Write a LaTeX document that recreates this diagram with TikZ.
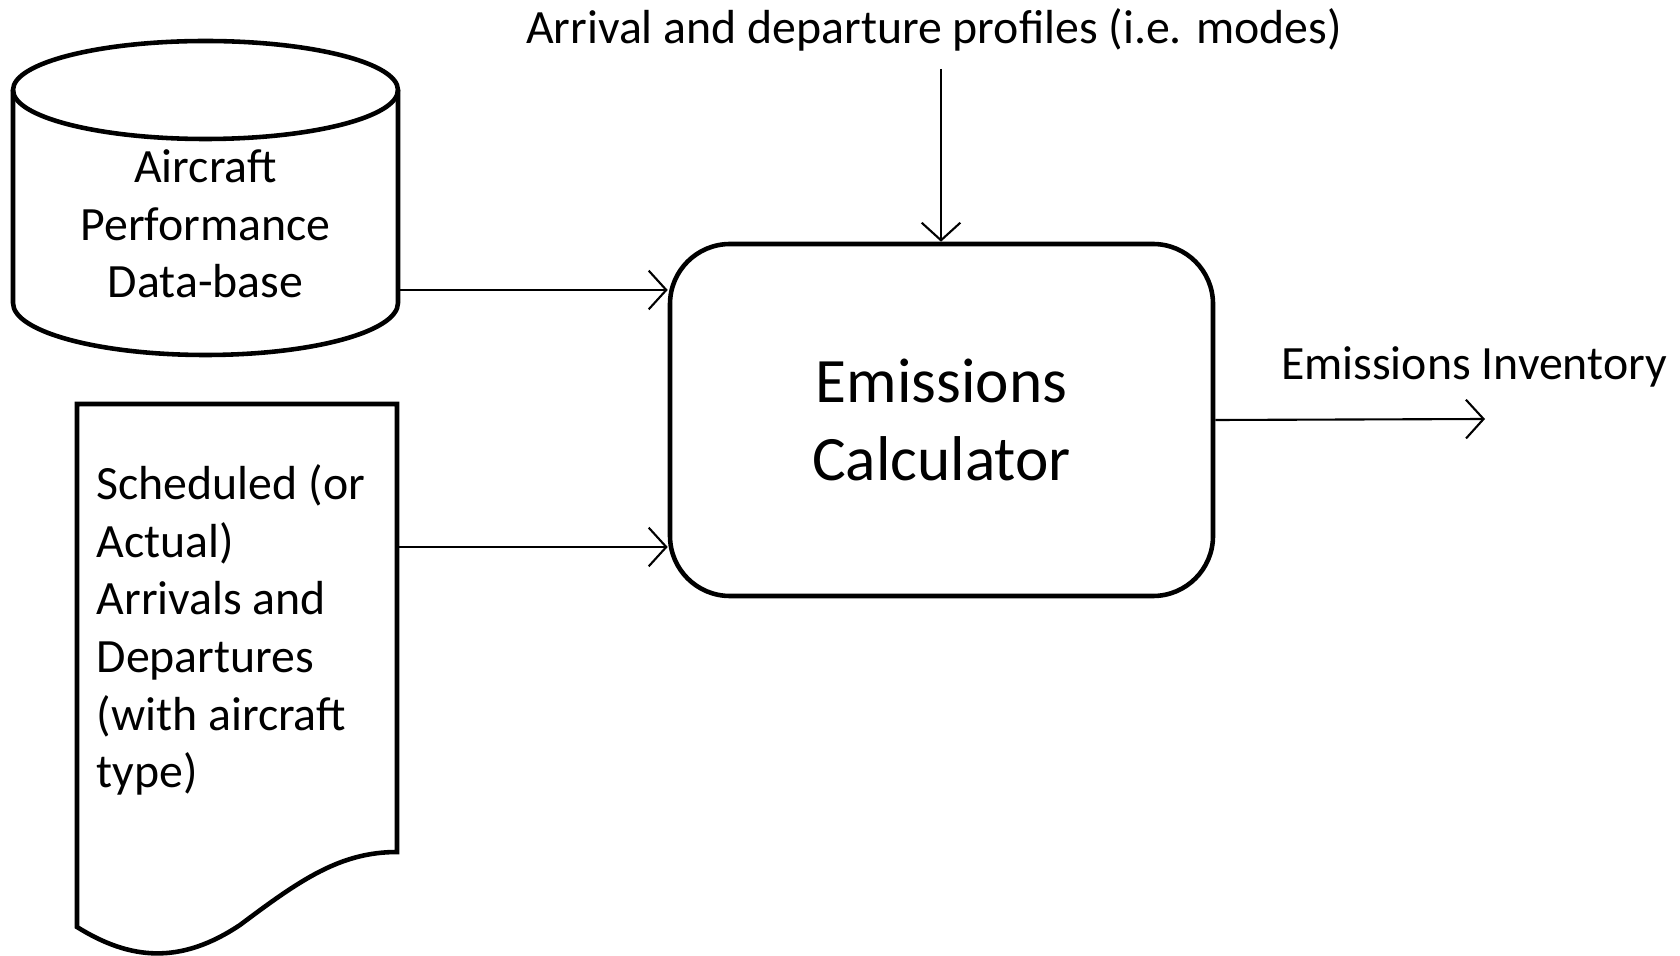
\documentclass[tikz,border=0pt]{standalone}
\usepackage{fontspec}
\setmainfont{Carlito}
\usetikzlibrary{positioning, arrows.meta, calc}

\tikzset{
	txt/.style={font=\fontsize{13.6}{16.4}\selectfont, inner sep=0pt},
	flow/.style={line width=0.6pt, -{Straight Barb[length=5pt, width=11pt]}},
	outline/.style={line width=1.3pt},
}

\begin{document}
\begin{tikzpicture}
		\useasboundingbox (0,0) rectangle (16.8,-9.56);

		% data-base cylinder
		\draw[outline] (0.13,-0.90) -- (0.13,-3.03) arc[start angle=180, end angle=360, x radius=1.925, y radius=0.52] -- (3.98,-0.90);
		\draw[outline] (2.055,-0.90) ellipse[x radius=1.925, y radius=0.49];
		\node[txt, align=center] (dbase) at (2.055,-2.24) {Aircraft\\Performance\\Data-base};

		% flight list document
		\draw[outline] (0.77,-4.04) -- (0.77,-9.27) .. controls (1.3,-9.6) and (1.8,-9.65) .. (2.4,-9.25)
			.. controls (3.0,-8.8) and (3.4,-8.52) .. (3.97,-8.52) -- (3.97,-4.04) -- cycle;
		\node[txt, anchor=west, align=left] (flights) at (0.96,-6.30) {Scheduled (or\\Actual)\\Arrivals and\\Departures\\(with aircraft\\type)};

		\node[draw, outline, rounded corners=0.6cm, minimum width=5.43cm, minimum height=3.52cm, align=center, font=\fontsize{18}{22}\selectfont] (calc) at (9.415,-4.20) {Emissions\\Calculator};

		\node[txt] (modes) at (9.34,-0.30) {Arrival and departure profiles (i.e. modes)};
		\node[txt] (inventory) at (14.74,-3.67) {Emissions Inventory};

		\coordinate (modesin) at (9.41,-0.69);
		\coordinate (dbout) at (3.98,-2.90);
		\coordinate (flightsout) at (3.97,-5.47);
		\coordinate (invout) at (14.85,-4.19);

		\path[draw, flow] (modesin) -- (modesin |- calc.north);
		\path[draw, flow] (dbout) -- (dbout -| calc.west);
		\path[draw, flow] (flightsout) -- (flightsout -| calc.west);
		\path[draw, flow] (calc.east) -- (invout);
	\end{tikzpicture}
\end{document}
